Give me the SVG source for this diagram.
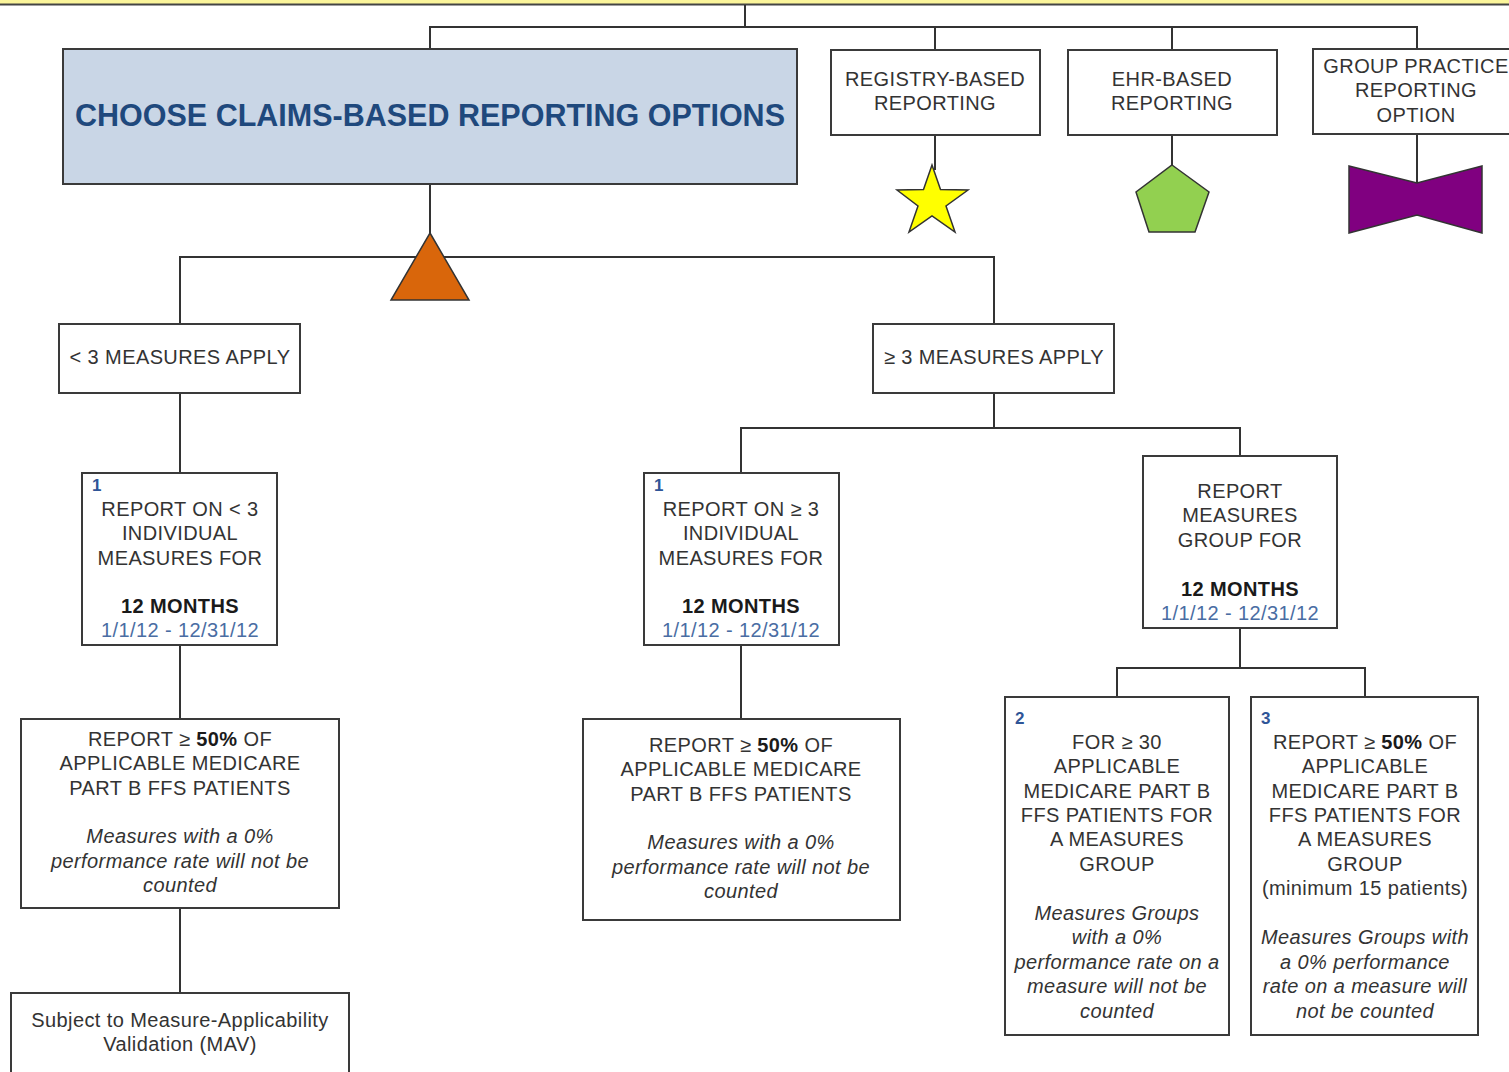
<svg xmlns="http://www.w3.org/2000/svg" width="1509" height="1072" viewBox="0 0 1509 1072">
<style>
.box{fill:#ffffff;stroke:#3a3a3a;stroke-width:2}
.ln{stroke:#333333;stroke-width:2;fill:none}
.t{font-family:"Liberation Sans",Arial,sans-serif;font-size:20px;fill:#333333;text-anchor:middle;letter-spacing:0.4px}
.b{font-weight:bold;fill:#1a1a1a}
.i{font-style:italic}
.d{fill:#4a6da3}
.n{font-family:"Liberation Sans",Arial,sans-serif;font-size:17px;font-weight:bold;fill:#2f5597}
.shape{stroke:#333333;stroke-width:1.5}
</style>
<rect x="0" y="0" width="1509" height="1072" fill="#ffffff"/>
<rect x="0" y="0" width="1509" height="4" fill="#fbf59a"/>
<line x1="0" y1="4.5" x2="1509" y2="4.5" stroke="#444444" stroke-width="2"/>

<g id="connectors">
<polyline class="ln" points="745,5 745,27"/>
<polyline class="ln" points="430,49 430,27 1417,27 1417,49"/>
<polyline class="ln" points="935,27 935,50"/>
<polyline class="ln" points="1172,27 1172,50"/>
<polyline class="ln" points="430,184 430,240"/>
<polyline class="ln" points="180,324 180,257 994,257 994,324"/>
<polyline class="ln" points="935,135 935,170"/>
<polyline class="ln" points="1172,135 1172,166"/>
<polyline class="ln" points="1417,134 1417,184"/>
<polyline class="ln" points="180,393 180,473"/>
<polyline class="ln" points="180,645 180,719"/>
<polyline class="ln" points="180,908 180,993"/>
<polyline class="ln" points="994,393 994,428"/>
<polyline class="ln" points="741,473 741,428 1240,428 1240,456"/>
<polyline class="ln" points="741,645 741,719"/>
<polyline class="ln" points="1240,628 1240,668"/>
<polyline class="ln" points="1117,697 1117,668 1365,668 1365,697"/>
</g>

<g id="main">
<rect x="63" y="49" width="734" height="135" fill="#c9d6e6" stroke="#3a3a3a" stroke-width="2"/>
<text x="430" y="126" font-family="'Liberation Sans',Arial,sans-serif" font-size="31" font-weight="bold" fill="#1f497d" text-anchor="middle" textLength="710" lengthAdjust="spacingAndGlyphs">CHOOSE CLAIMS-BASED REPORTING OPTIONS</text>
</g>

<g id="triangle">
<polygon class="shape" points="430,233 469,300 391,300" fill="#d9660b"/>
</g>

<g id="registry">
<rect class="box" x="831" y="50" width="209" height="85"/>
<text class="t" x="935" y="86">REGISTRY-BASED</text>
<text class="t" x="935" y="110">REPORTING</text>
</g>
<g id="star">
<polygon class="shape" fill="#ffff00" points="932,165 940.5,189.5 968,190 946,206 955,232 932,216 909,232 918,206 897,190 923.5,189.5"/>
</g>

<g id="ehr">
<rect class="box" x="1068" y="50" width="209" height="85"/>
<text class="t" x="1172" y="86">EHR-BASED</text>
<text class="t" x="1172" y="110">REPORTING</text>
</g>
<g id="pentagon">
<polygon class="shape" fill="#92d050" points="1172,165 1209,192 1195,232 1149,232 1136,192"/>
</g>

<g id="group-practice">
<rect class="box" x="1313" y="49" width="200" height="85"/>
<text class="t" x="1416" y="73">GROUP PRACTICE</text>
<text class="t" x="1416" y="97">REPORTING</text>
<text class="t" x="1416" y="122">OPTION</text>
</g>
<g id="bowtie">
<polygon class="shape" fill="#800080" points="1349,166 1417,183 1482,166 1482,233 1417,215 1349,233"/>
</g>

<g id="lt3">
<rect class="box" x="59" y="324" width="241" height="69"/>
<text class="t" x="180" y="364">&lt; 3 MEASURES APPLY</text>
</g>

<g id="ge3">
<rect class="box" x="873" y="324" width="241" height="69"/>
<text class="t" x="994" y="364">≥ 3 MEASURES APPLY</text>
</g>

<g id="report-lt3">
<rect class="box" x="82" y="473" width="195" height="172"/>
<text class="n" x="92" y="491">1</text>
<text class="t" x="180" y="516">REPORT ON &lt; 3</text>
<text class="t" x="180" y="540">INDIVIDUAL</text>
<text class="t" x="180" y="565">MEASURES FOR</text>
<text class="t b" x="180" y="613">12 MONTHS</text>
<text class="t d" x="180" y="637">1/1/12 - 12/31/12</text>
</g>

<g id="pct-left">
<rect class="box" x="21" y="719" width="318" height="189"/>
<text class="t" x="180" y="746">REPORT ≥ <tspan class="b">50%</tspan> OF</text>
<text class="t" x="180" y="770">APPLICABLE MEDICARE</text>
<text class="t" x="180" y="795">PART B FFS PATIENTS</text>
<text class="t i" x="180" y="843">Measures with a 0%</text>
<text class="t i" x="180" y="868">performance rate will not be</text>
<text class="t i" x="180" y="892">counted</text>
</g>

<g id="mav">
<rect class="box" x="11" y="993" width="338" height="90"/>
<text class="t" x="180" y="1027">Subject to Measure-Applicability</text>
<text class="t" x="180" y="1051">Validation (MAV)</text>
</g>

<g id="report-ge3">
<rect class="box" x="644" y="473" width="195" height="172"/>
<text class="n" x="654" y="491">1</text>
<text class="t" x="741" y="516">REPORT ON ≥ 3</text>
<text class="t" x="741" y="540">INDIVIDUAL</text>
<text class="t" x="741" y="565">MEASURES FOR</text>
<text class="t b" x="741" y="613">12 MONTHS</text>
<text class="t d" x="741" y="637">1/1/12 - 12/31/12</text>
</g>

<g id="pct-mid">
<rect class="box" x="583" y="719" width="317" height="201"/>
<text class="t" x="741" y="752">REPORT ≥ <tspan class="b">50%</tspan> OF</text>
<text class="t" x="741" y="776">APPLICABLE MEDICARE</text>
<text class="t" x="741" y="801">PART B FFS PATIENTS</text>
<text class="t i" x="741" y="849">Measures with a 0%</text>
<text class="t i" x="741" y="874">performance rate will not be</text>
<text class="t i" x="741" y="898">counted</text>
</g>

<g id="measures-group">
<rect class="box" x="1143" y="456" width="194" height="172"/>
<text class="t" x="1240" y="498">REPORT</text>
<text class="t" x="1240" y="522">MEASURES</text>
<text class="t" x="1240" y="547">GROUP FOR</text>
<text class="t b" x="1240" y="596">12 MONTHS</text>
<text class="t d" x="1240" y="620">1/1/12 - 12/31/12</text>
</g>

<g id="option2">
<rect class="box" x="1005" y="697" width="224" height="338"/>
<text class="n" x="1015" y="724">2</text>
<text class="t" x="1117" y="749">FOR ≥ 30</text>
<text class="t" x="1117" y="773">APPLICABLE</text>
<text class="t" x="1117" y="798">MEDICARE PART B</text>
<text class="t" x="1117" y="822">FFS PATIENTS FOR</text>
<text class="t" x="1117" y="846">A MEASURES</text>
<text class="t" x="1117" y="871">GROUP</text>
<text class="t i" x="1117" y="920">Measures Groups</text>
<text class="t i" x="1117" y="944">with a 0%</text>
<text class="t i" x="1117" y="969">performance rate on a</text>
<text class="t i" x="1117" y="993">measure will not be</text>
<text class="t i" x="1117" y="1018">counted</text>
</g>

<g id="option3">
<rect class="box" x="1251" y="697" width="227" height="338"/>
<text class="n" x="1261" y="724">3</text>
<text class="t" x="1365" y="749">REPORT ≥ <tspan class="b">50%</tspan> OF</text>
<text class="t" x="1365" y="773">APPLICABLE</text>
<text class="t" x="1365" y="798">MEDICARE PART B</text>
<text class="t" x="1365" y="822">FFS PATIENTS FOR</text>
<text class="t" x="1365" y="846">A MEASURES</text>
<text class="t" x="1365" y="871">GROUP</text>
<text class="t" x="1365" y="895">(minimum 15 patients)</text>
<text class="t i" x="1365" y="944">Measures Groups with</text>
<text class="t i" x="1365" y="969">a 0% performance</text>
<text class="t i" x="1365" y="993">rate on a measure will</text>
<text class="t i" x="1365" y="1018">not be counted</text>
</g>
</svg>
